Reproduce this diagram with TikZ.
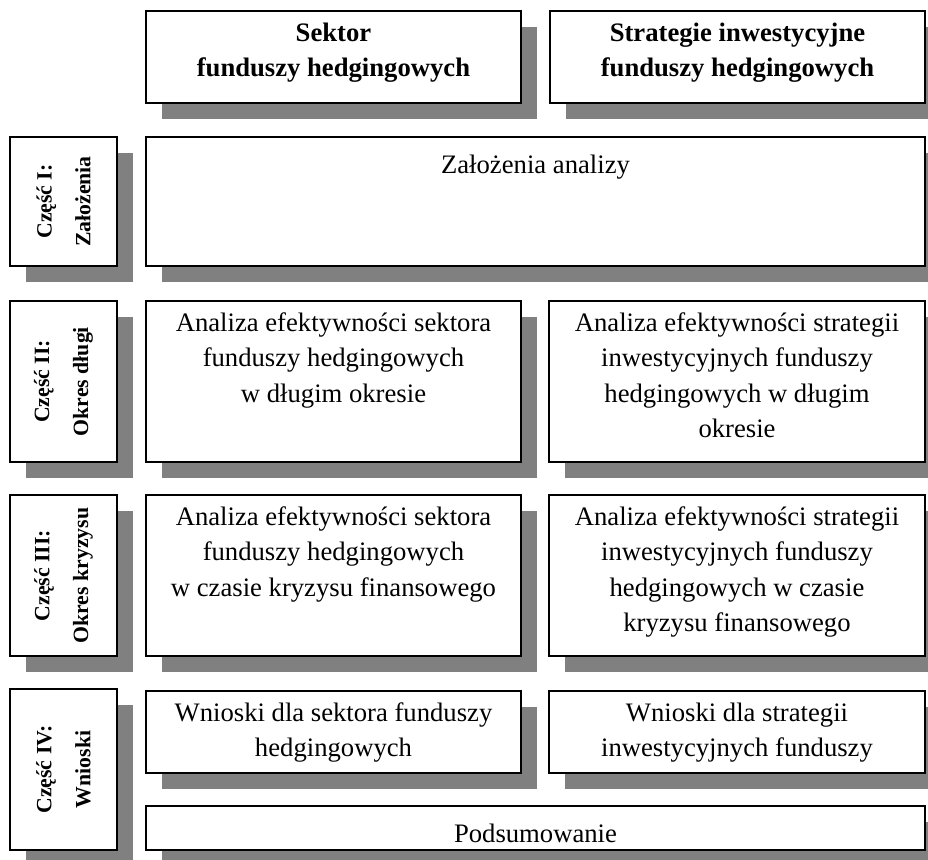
\documentclass[tikz,border=0pt]{standalone}
\usepackage{fontspec}
\setmainfont{Liberation Serif}
\usetikzlibrary{positioning,fit,shadows}
\definecolor{cien}{RGB}{128,128,128}
\tikzset{
  ramka/.style={draw, line width=0.9pt, fill=white, inner sep=0pt,
    drop shadow={shadow xshift=7.2pt, shadow yshift=-7.2pt, fill=cien, opacity=1}},
  tekst/.style={inner sep=0pt, align=center, font=\fontsize{12}{15.9}\selectfont,
    execute at begin node=\strut},
  naglowek/.style={tekst, font=\fontsize{12}{15.9}\selectfont\bfseries},
  czesc/.style={rotate=90, align=center, inner sep=0pt,
    font=\fontsize{9.8}{17.5}\selectfont\bfseries}
}
\begin{document}
\begin{tikzpicture}[x=0.45pt,y=-0.45pt]
\clip (0,0) rectangle (928,860);
%naglowki
\node[ramka, fit={(146,11) (521,103)}] (sektor) {};
\node[ramka, fit={(550,11) (925,103)}] (strategie) {};
\node[naglowek, below=5.5pt of sektor.north] {Sektor\\funduszy hedgingowych};
\node[naglowek, below=5.5pt of strategie.north] {Strategie inwestycyjne\\funduszy hedgingowych};
%czesc I
\node[ramka, fit={(10,137) (117,266)}] (cz1) {};
\node[czesc] at (cz1.center) {Część I:\\Założenia};
\node[ramka, fit={(146,137) (925,266)}] (zal) {};
\node[tekst, below=5.5pt of zal.north] {Założenia analizy};
%czesc II
\node[ramka, fit={(10,301) (117,462)}] (cz2) {};
\node[czesc] at (cz2.center) {Część II:\\Okres długi};
\node[ramka, fit={(146,301) (521,462)}] (dlugiS) {};
\node[tekst, below=5.5pt of dlugiS.north] {Analiza efektywności sektora\\funduszy hedgingowych\\w długim okresie};
\node[ramka, fit={(549,301) (925,462)}] (dlugiI) {};
\node[tekst, below=5.5pt of dlugiI.north] {Analiza efektywności strategii\\inwestycyjnych funduszy\\hedgingowych w długim\\okresie};
%czesc III
\node[ramka, fit={(10,495) (117,656)}] (cz3) {};
\node[czesc] at (cz3.center) {Część III:\\Okres kryzysu};
\node[ramka, fit={(146,495) (521,656)}] (kryzysS) {};
\node[tekst, below=5.5pt of kryzysS.north] {Analiza efektywności sektora\\funduszy hedgingowych\\w czasie kryzysu finansowego};
\node[ramka, fit={(549,495) (925,656)}] (kryzysI) {};
\node[tekst, below=5.5pt of kryzysI.north] {Analiza efektywności strategii\\inwestycyjnych funduszy\\hedgingowych w czasie\\kryzysu finansowego};
%czesc IV
\node[ramka, fit={(10,689) (117,850)}] (cz4) {};
\node[czesc] at (cz4.center) {Część IV:\\Wnioski};
\node[ramka, fit={(146,691) (521,773)}] (wnioskiS) {};
\node[tekst, below=5.5pt of wnioskiS.north] {Wnioski dla sektora funduszy\\hedgingowych};
\node[ramka, fit={(549,691) (925,773)}] (wnioskiI) {};
\node[tekst, below=5.5pt of wnioskiI.north] {Wnioski dla strategii\\inwestycyjnych funduszy};
\node[ramka, fit={(146,806) (925,850)}] (podsum) {};
\node[tekst, below=5.5pt of podsum.north] {Podsumowanie};
\end{tikzpicture}
\end{document}
